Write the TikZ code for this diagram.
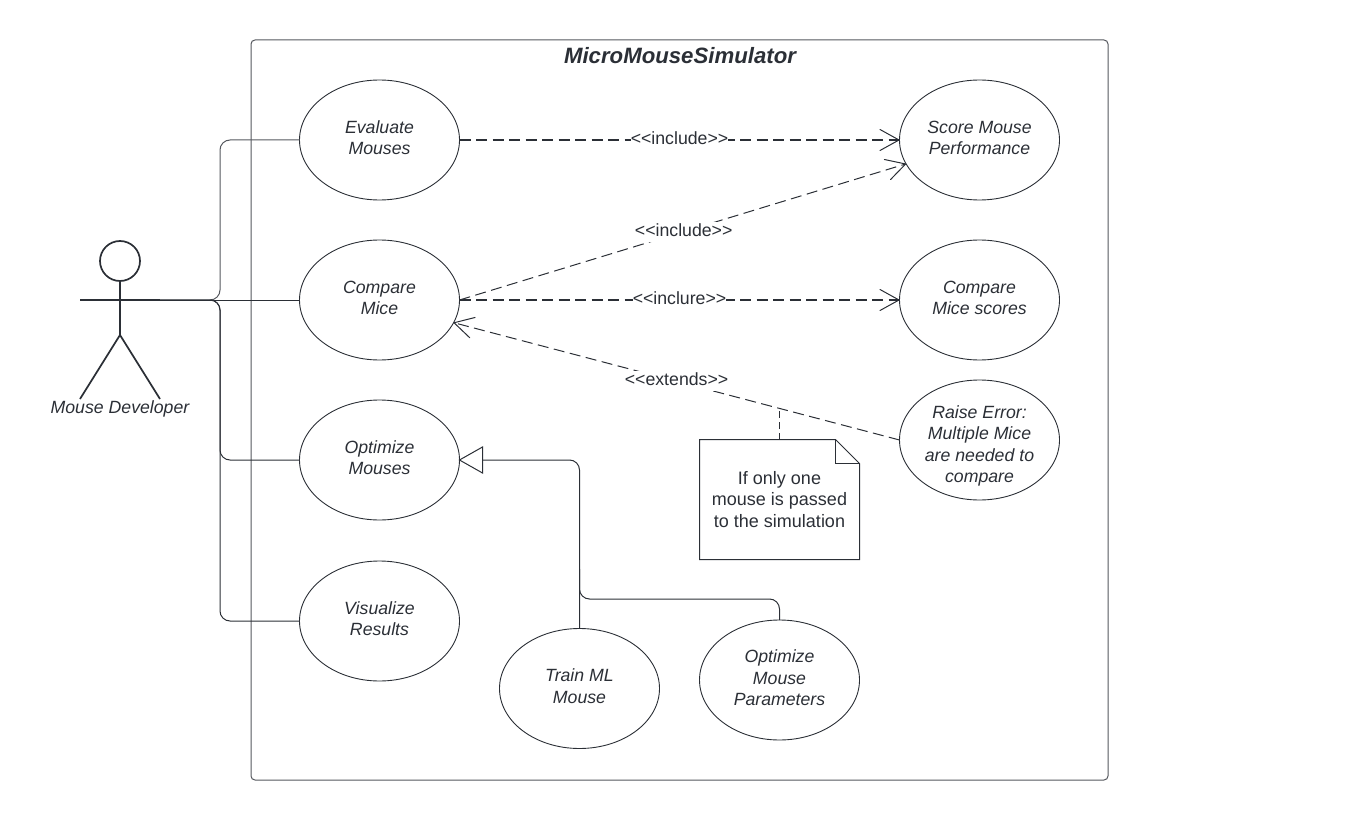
\documentclass[tikz,border=0pt]{standalone}
\usepackage{fontspec}
\setmainfont{Liberation Sans}
\usetikzlibrary{arrows.meta,shapes.geometric,calc}
\definecolor{ink}{HTML}{2B2F36}
\definecolor{frameink}{HTML}{55585E}
\newcommand{\stereo}[1]{{<}{<}#1{>}{>}}
\tikzset{
  usecase/.style={draw=ink,line width=0.9pt,ellipse,minimum width=160pt,minimum height=120pt,inner sep=0pt,outer sep=0pt},
  casetext/.style={align=center,text=ink,inner sep=0pt,font=\fontsize{17.7}{21.4}\selectfont\itshape},
  wire/.style={draw=ink,line width=1pt,rounded corners=10pt},
  greywire/.style={draw=frameink,line width=1pt,rounded corners=10pt},
  dep/.style={draw=ink,line width=1pt,dash pattern=on 11pt off 5.5pt,-{Straight Barb[length=19pt,width=21pt,line width=1pt,round]}},
  depbold/.style={dep,line width=1.7pt,-{Straight Barb[length=19pt,width=21pt,line width=1pt,round]}},
  deplabel/.style={fill=white,text=ink,inner xsep=0pt,inner ysep=0pt,text height=14.5pt,text depth=5.5pt,font=\fontsize{17.7}{21}\selectfont},
  stick/.style={draw=ink,line width=1.7pt},
  notebody/.style={draw=ink,line width=1pt,line join=miter},
}
\begin{document}
\begin{tikzpicture}[x=1pt,y=-1pt]
\useasboundingbox (0,0) rectangle (1360,821);
% system boundary
\node[draw=frameink,line width=1pt,rounded corners=4pt,minimum width=857pt,minimum height=740pt,inner sep=0pt,outer sep=0pt] (system) at (679.5,410) {};
\node[font=\fontsize{22.2}{26}\selectfont\bfseries\itshape,text=ink,inner sep=0pt] (title) at (680,55.5) {MicroMouseSimulator};
% use cases
\node[usecase,label={[casetext,yshift=2.2pt]center:{Evaluate\\Mouses}}] (evaluate) at (379.5,140) {};
\node[usecase,label={[casetext,yshift=2.2pt]center:{Compare\\Mice}}] (compare) at (379.5,300) {};
\node[usecase,label={[casetext,yshift=2.2pt]center:{Optimize\\Mouses}}] (optimize) at (379.5,460) {};
\node[usecase,label={[casetext,yshift=2.2pt]center:{Visualize\\Results}}] (visualize) at (379.5,621) {};
\node[usecase,label={[casetext,yshift=2.2pt]center:{Train ML\\Mouse}}] (train) at (579.5,688.5) {};
\node[usecase,label={[casetext,yshift=2.2pt]center:{Optimize\\Mouse\\Parameters}}] (params) at (779.5,680) {};
\node[usecase,label={[casetext,yshift=2.2pt]center:{Score Mouse\\Performance}}] (score) at (979.5,140) {};
\node[usecase,label={[casetext,yshift=2.2pt]center:{Compare\\Mice scores}}] (scores) at (979.5,300) {};
\node[usecase,label={[casetext,yshift=-6pt]center:{Raise Error:\\Multiple Mice\\are needed to\\compare}}] (raise) at (979.5,440) {};
% actor
\node[draw=ink,line width=1.7pt,circle,minimum size=40pt,inner sep=0pt,outer sep=0pt] (head) at (120,261) {};
\coordinate (neck) at (120,335);
\coordinate (armL) at (80,300);
\coordinate (armR) at (160,300);
\coordinate (footL) at (80,399);
\coordinate (footR) at (160,399);
\draw[stick] (head.south) -- (neck);
\draw[stick] (armL) -- (armR);
\draw[stick,line join=miter] (footL) -- (neck) -- (footR);
\node[inner sep=0pt,text=ink,font=\fontsize{17.7}{21}\selectfont\itshape] (actor) at (120,409) {Mouse Developer};
% actor connectors
\coordinate (bus) at (220,300);
\draw[greywire] (armR) -- (bus) |- (evaluate.west);
\draw[wire] (armR) -- (compare.west);
\draw[wire] (armR) -- (bus) |- (optimize.west);
\draw[wire] (armR) -- (bus) |- (visualize.west);
% dependencies
\draw[depbold] (evaluate.east) -- node[deplabel] (l1) {\stereo{include}} (score.west);
\draw[dep] (compare.east) -- node[deplabel,pos=0.502] (l2) {\stereo{include}} (score.198);
\draw[depbold] (compare.east) -- node[deplabel] (l3) {\stereo{inclure}} (scores.west);
\draw[dep] (raise.west) -- coordinate[pos=0.27] (notefoot) node[deplabel,pos=0.5] (l4) {\stereo{extends}} (compare.-17);
% note
\node[inner sep=0pt,outer sep=0pt,minimum width=160pt,minimum height=120pt,align=center,text=ink,font=\fontsize{18}{21.5}\selectfont] (note) at (779.5,499.5) {If only one\\mouse is passed\\to the simulation};
\draw[notebody] ($(note.north east)+(-24,0)$) -- (note.north west) -- (note.south west) -- (note.south east) -- ($(note.north east)+(0,24)$) -- cycle;
\draw[notebody] ($(note.north east)+(-24,0)$) |- ($(note.north east)+(0,24)$);
\draw[draw=ink,line width=1pt,dash pattern=on 7pt off 4pt] (note.north) -- (note.north |- notefoot);
% generalisations
\coordinate (merge) at (579.5,599);
\draw[wire] (params.north) |- (merge) -- ($(merge)+(0,-30)$);
\draw[wire] (train.north) |- ($(optimize.east)+(23,0)$);
\draw[draw=ink,line width=1pt,line join=miter,fill=white] (optimize.east) -- ++(23,-13) -- ++(0,26) -- cycle;
\end{tikzpicture}
\end{document}
